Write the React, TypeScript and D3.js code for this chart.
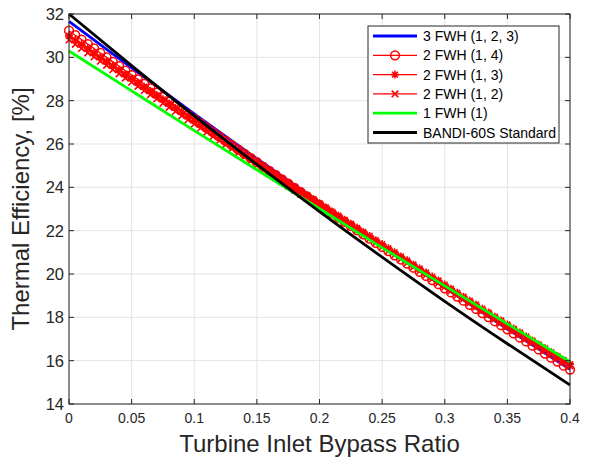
import * as d3 from 'd3';

// x positions
const xCoarse = [0, 0.05, 0.1, 0.15, 0.2, 0.25, 0.3, 0.35, 0.4];
const xFineStep = 0.005; // red series sampled every 0.005

const fwh3 = [31.66, 29.51, 27.39, 25.32, 23.30, 21.31, 19.37, 17.46, 15.60];
const fwh1 = [30.29, 28.45, 26.62, 24.81, 23.01, 21.22, 19.45, 17.70, 15.95];
const bandi = [32.0, 29.62, 27.30, 25.06, 22.88, 20.78, 18.74, 16.78, 14.88];

const fwh14 = [
  31.23, 31.02, 30.82, 30.61, 30.41, 30.20, 30.00, 29.79, 29.59, 29.38,
  29.18, 28.98, 28.77, 28.57, 28.37, 28.16, 27.96, 27.76, 27.56, 27.36,
  27.16, 26.95, 26.75, 26.55, 26.35, 26.15, 25.95, 25.75, 25.56, 25.36,
  25.16, 24.96, 24.76, 24.57, 24.37, 24.17, 23.97, 23.78, 23.58, 23.39,
  23.19, 22.99, 22.80, 22.60, 22.41, 22.22, 22.02, 21.83, 21.63, 21.44,
  21.25, 21.06, 20.86, 20.67, 20.48, 20.29, 20.10, 19.91, 19.72, 19.53,
  19.34, 19.15, 18.96, 18.77, 18.58, 18.39, 18.20, 18.01, 17.82, 17.64,
  17.45, 17.26, 17.07, 16.89, 16.70, 16.52, 16.33, 16.14, 15.96, 15.77,
  15.59,
];
const fwh13 = [
  31.00, 30.80, 30.61, 30.41, 30.21, 30.02, 29.82, 29.62, 29.43, 29.23,
  29.04, 28.84, 28.64, 28.45, 28.25, 28.06, 27.87, 27.67, 27.48, 27.28,
  27.09, 26.90, 26.70, 26.51, 26.32, 26.13, 25.93, 25.74, 25.55, 25.36,
  25.17, 24.97, 24.78, 24.59, 24.40, 24.21, 24.02, 23.83, 23.64, 23.45,
  23.26, 23.07, 22.88, 22.69, 22.50, 22.32, 22.13, 21.94, 21.75, 21.56,
  21.38, 21.19, 21.00, 20.81, 20.63, 20.44, 20.25, 20.07, 19.88, 19.70,
  19.51, 19.32, 19.14, 18.95, 18.77, 18.59, 18.40, 18.22, 18.03, 17.85,
  17.67, 17.48, 17.30, 17.12, 16.93, 16.75, 16.57, 16.39, 16.20, 16.02,
  15.84,
];
const fwh12 = [
  30.80, 30.60, 30.41, 30.21, 30.02, 29.82, 29.63, 29.43, 29.24, 29.04,
  28.85, 28.66, 28.46, 28.27, 28.08, 27.88, 27.69, 27.50, 27.30, 27.11,
  26.92, 26.73, 26.54, 26.34, 26.15, 25.96, 25.77, 25.58, 25.39, 25.20,
  25.01, 24.82, 24.63, 24.44, 24.25, 24.06, 23.87, 23.68, 23.50, 23.31,
  23.12, 22.93, 22.74, 22.56, 22.37, 22.18, 22.00, 21.81, 21.62, 21.44,
  21.25, 21.06, 20.88, 20.69, 20.51, 20.32, 20.14, 19.95, 19.77, 19.58,
  19.40, 19.22, 19.03, 18.85, 18.67, 18.48, 18.30, 18.12, 17.93, 17.75,
  17.57, 17.39, 17.21, 17.02, 16.84, 16.66, 16.48, 16.30, 16.12, 15.94,
  15.76,
];

const xTicks = [0, 0.05, 0.1, 0.15, 0.2, 0.25, 0.3, 0.35, 0.4];
const xTickLabels = ['0', '0.05', '0.1', '0.15', '0.2', '0.25', '0.3', '0.35', '0.4'];
const yTicks = [14, 16, 18, 20, 22, 24, 26, 28, 30, 32];

const legendLabels = [
  '3 FWH (1, 2, 3)',
  '2 FWH (1, 4)',
  '2 FWH (1, 3)',
  '2 FWH (1, 2)',
  '1 FWH (1)',
  'BANDI-60S Standard',
];

const W = 589;
const H = 464;
const M = { left: 69, right: 19, top: 14, bottom: 60 };
const FONT = 'Arial, "Liberation Sans", Helvetica, sans-serif';
const AX = '#262626';

const starPath = 'M-4,0H4M0,-4V4M-2.9,-2.9L2.9,2.9M-2.9,2.9L2.9,-2.9';
const crossPath = 'M-3.3,-3.3L3.3,3.3M-3.3,3.3L3.3,-3.3';

const Marker = ({ kind, x, y }) => {
  if (kind === 'o') return <circle cx={x} cy={y} r={4.4} fill="none" stroke="#ff0000" strokeWidth={1.5} />;
  return (
    <path
      d={kind === '*' ? starPath : crossPath}
      transform={`translate(${x},${y})`}
      fill="none"
      stroke="#ff0000"
      strokeWidth={1.6}
    />
  );
};

export default function App() {
  const x = d3.scaleLinear().domain([0, 0.4]).range([M.left, W - M.right]);
  const y = d3.scaleLinear().domain([14, 32]).range([H - M.bottom, M.top]);

  const smooth = d3
    .line<number>()
    .x((_, i) => x(xCoarse[i]))
    .y((d) => y(d))
    .curve(d3.curveMonotoneX);
  const fine = d3
    .line<number>()
    .x((_, i) => x(i * xFineStep))
    .y((d) => y(d));

  const x0 = x.range()[0];
  const x1 = x.range()[1];
  const y0 = y.range()[0];
  const y1 = y.range()[1];

  const redSeries = [
    { data: fwh14, kind: 'o' },
    { data: fwh13, kind: '*' },
    { data: fwh12, kind: 'x' },
  ];

  // legend
  const lg = { x: 368, y: 26, w: 191, h: 117, row: 19.3 };

  return (
    <svg
      width={W}
      height={H}
      style={{ position: 'absolute', left: 0, top: 0, background: '#fff', fontFamily: FONT }}
    >
      {/* grid */}
      {xTicks.map((t) => (
        <line key={'gx' + t} x1={x(t)} x2={x(t)} y1={y0} y2={y1} stroke="#e3e3e3" strokeWidth={1} />
      ))}
      {yTicks.map((t) => (
        <line key={'gy' + t} x1={x0} x2={x1} y1={y(t)} y2={y(t)} stroke="#e3e3e3" strokeWidth={1} />
      ))}

      {/* series */}
      <path d={smooth(fwh3) ?? ''} fill="none" stroke="#0000ff" strokeWidth={2.8} />
      {redSeries.map((s) => (
        <g key={s.kind}>
          <path d={fine(s.data) ?? ''} fill="none" stroke="#ff0000" strokeWidth={1.3} />
          {s.data.map((v, i) => (
            <Marker key={i} kind={s.kind} x={x(i * xFineStep)} y={y(v)} />
          ))}
        </g>
      ))}
      <path d={smooth(fwh1) ?? ''} fill="none" stroke="#00ff00" strokeWidth={2.8} />
      <path d={smooth(bandi) ?? ''} fill="none" stroke="#000000" strokeWidth={2.8} />

      {/* axes box + ticks */}
      <rect x={x0} y={y1} width={x1 - x0} height={y0 - y1} fill="none" stroke={AX} strokeWidth={1} />
      {xTicks.map((t, i) => (
        <g key={'xt' + t}>
          <line x1={x(t)} x2={x(t)} y1={y0} y2={y0 - 5} stroke={AX} />
          <line x1={x(t)} x2={x(t)} y1={y1} y2={y1 + 5} stroke={AX} />
          <text x={x(t)} y={y0 + 19} textAnchor="middle" fontSize={14} fill={AX}>
            {xTickLabels[i]}
          </text>
        </g>
      ))}
      {yTicks.map((t) => (
        <g key={'yt' + t}>
          <line x1={x0} x2={x0 + 5} y1={y(t)} y2={y(t)} stroke={AX} />
          <line x1={x1} x2={x1 - 5} y1={y(t)} y2={y(t)} stroke={AX} />
          <text x={x0 - 5} y={y(t) + 6} textAnchor="end" fontSize={16.5} fill={AX}>
            {t}
          </text>
        </g>
      ))}

      {/* axis titles */}
      <text x={(x0 + x1) / 2} y={452} textAnchor="middle" fontSize={24} fill={AX}>
        Turbine Inlet Bypass Ratio
      </text>
      <text
        transform={`translate(29,${(y0 + y1) / 2}) rotate(-90)`}
        textAnchor="middle"
        fontSize={24}
        fill={AX}
      >
        Thermal Efficiency, [%]
      </text>

      {/* legend */}
      <rect x={lg.x} y={lg.y} width={lg.w} height={lg.h} fill="#fff" stroke={AX} strokeWidth={1} />
      {legendLabels.map((label, i) => {
        const cy = lg.y + 10 + i * lg.row;
        const colors = ['#0000ff', '#ff0000', '#ff0000', '#ff0000', '#00ff00', '#000000'];
        const widths = [2.8, 1.3, 1.3, 1.3, 2.8, 2.8];
        const kinds = [null, 'o', '*', 'x', null, null];
        return (
          <g key={label}>
            <line x1={373} x2={417} y1={cy} y2={cy} stroke={colors[i]} strokeWidth={widths[i]} />
            {kinds[i] && <Marker kind={kinds[i]} x={395} y={cy} />}
            <text x={423} y={cy + 5} fontSize={14} fill="#000">
              {label}
            </text>
          </g>
        );
      })}
    </svg>
  );
}
